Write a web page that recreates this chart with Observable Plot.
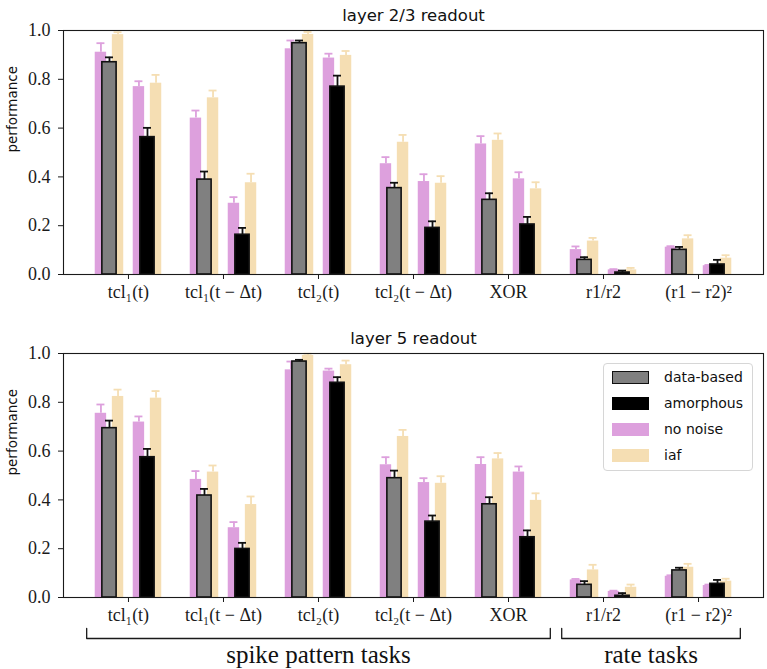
<!DOCTYPE html>
<html><head><meta charset="utf-8">
<script src="https://cdn.jsdelivr.net/npm/d3@7"></script>
<script src="https://cdn.jsdelivr.net/npm/@observablehq/plot@0.6"></script>
<style>
body{margin:0;background:#fff;}
#wrap{position:relative;width:767px;height:669px;overflow:hidden;}
#wrap svg{display:block;}
.legend{position:absolute;left:603px;top:363px;width:150px;height:108px;box-sizing:border-box;border:1px solid #d6d6d6;border-radius:4px;background:rgba(255,255,255,0.85);font-family:"DejaVu Sans";font-size:14px;color:#111;}
.legend .row{position:absolute;left:0;height:13px;width:150px;}
.legend .sw{position:absolute;left:8px;top:0;width:37px;height:13px;box-sizing:border-box;}
.legend .lb{position:absolute;left:60px;top:-3px;line-height:18px;white-space:nowrap;}
</style>
</head><body><div id="wrap"></div>
<script>
const tasks = ["tcl₁(t)", "tcl₁(t − Δt)", "tcl₂(t)", "tcl₂(t − Δt)", "XOR", "r1/r2", "(r1 − r2)²"];
const legendNames = ["data-based", "amorphous", "no noise", "iaf"];
const groupNames = ["spike pattern tasks", "rate tasks"];
const groupStart = [0, 5];
const groupEnd = [4, 6];

// layer 2/3 readout
const l23Data = [0.870, 0.389, 0.948, 0.354, 0.306, 0.060, 0.101];
const l23DataErr = [0.020, 0.033, 0.011, 0.022, 0.027, 0.011, 0.012];
const l23DataNoNoise = [0.911, 0.641, 0.925, 0.454, 0.535, 0.102, 0.112];
const l23DataNoNoiseErr = [0.037, 0.031, 0.034, 0.027, 0.032, 0.013, 0.004];
const l23DataIaf = [0.983, 0.724, 0.984, 0.542, 0.550, 0.137, 0.146];
const l23DataIafErr = [0.010, 0.030, 0.010, 0.030, 0.028, 0.013, 0.015];
const l23Amorph = [0.563, 0.163, 0.770, 0.191, 0.205, 0.008, 0.041];
const l23AmorphErr = [0.038, 0.028, 0.045, 0.027, 0.031, 0.008, 0.019];
const l23AmorphNoNoise = [0.770, 0.292, 0.887, 0.381, 0.392, 0.019, 0.036];
const l23AmorphNoNoiseErr = [0.022, 0.025, 0.018, 0.030, 0.027, 0.003, 0.003];
const l23AmorphIaf = [0.784, 0.376, 0.898, 0.374, 0.351, 0.019, 0.067];
const l23AmorphIafErr = [0.034, 0.037, 0.018, 0.029, 0.027, 0.008, 0.012];

// layer 5 readout
const l5Data = [0.694, 0.418, 0.967, 0.489, 0.382, 0.052, 0.111];
const l5DataErr = [0.031, 0.027, 0.007, 0.031, 0.029, 0.015, 0.011];
const l5DataNoNoise = [0.755, 0.484, 0.933, 0.544, 0.545, 0.072, 0.087];
const l5DataNoNoiseErr = [0.036, 0.034, 0.034, 0.031, 0.030, 0.004, 0.004];
const l5DataIaf = [0.824, 0.514, 0.992, 0.660, 0.568, 0.113, 0.124];
const l5DataIafErr = [0.028, 0.027, 0.007, 0.027, 0.024, 0.021, 0.014];
const l5Amorph = [0.575, 0.199, 0.880, 0.311, 0.247, 0.007, 0.056];
const l5AmorphErr = [0.034, 0.025, 0.023, 0.025, 0.028, 0.011, 0.016];
const l5AmorphNoNoise = [0.719, 0.286, 0.928, 0.471, 0.514, 0.025, 0.049];
const l5AmorphNoNoiseErr = [0.023, 0.023, 0.010, 0.018, 0.023, 0.003, 0.004];
const l5AmorphIaf = [0.817, 0.381, 0.954, 0.468, 0.398, 0.042, 0.067];
const l5AmorphIafErr = [0.029, 0.033, 0.017, 0.029, 0.029, 0.011, 0.010];

const COL = {data: "#808080", amorph: "#000000", nonoise: "#DDA0DD", iaf: "#F5DEB3"};
const SERIF = "Liberation Serif";
const SANS = "DejaVu Sans";
const MAIN_OFF = 0.2, MAIN_W = 0.15, BACK_OFF = 0.09, BACK_W = 0.12, CAP = 0.042;

function rows(vals, errs, center) {
  return vals.map((v, i) => ({i, c: i + center, v, e: errs[i]}));
}

function backMarks(data, color) {
  return [
    Plot.rect(data, {x1: d => d.c - BACK_W / 2, x2: d => d.c + BACK_W / 2, y1: 0, y2: "v", fill: color}),
    Plot.ruleX(data, {x: "c", y1: "v", y2: d => d.v + d.e, stroke: color, strokeWidth: 1.8}),
    Plot.ruleY(data, {y: d => d.v + d.e, x1: d => d.c - CAP, x2: d => d.c + CAP, stroke: color, strokeWidth: 1.8})
  ];
}
function mainMarks(data, color) {
  return [
    Plot.rect(data, {x1: d => d.c - MAIN_W / 2, x2: d => d.c + MAIN_W / 2, y1: 0, y2: "v", fill: color, stroke: "#111", strokeWidth: 1.6}),
    Plot.ruleX(data, {x: "c", y1: "v", y2: d => d.v + d.e, stroke: "#111", strokeWidth: 1.8}),
    Plot.ruleY(data, {y: d => d.v + d.e, x1: d => d.c - CAP, x2: d => d.c + CAP, stroke: "#111", strokeWidth: 1.8})
  ];
}

function panel(title, S, cfg) {
  const dn = rows(S.dataNo, S.dataNoErr, -MAIN_OFF - BACK_OFF);
  const di = rows(S.dataIaf, S.dataIafErr, -MAIN_OFF + BACK_OFF);
  const an = rows(S.amNo, S.amNoErr, MAIN_OFF - BACK_OFF);
  const ai = rows(S.amIaf, S.amIafErr, MAIN_OFF + BACK_OFF);
  const dm = rows(S.data, S.dataErr, -MAIN_OFF);
  const am = rows(S.am, S.amErr, MAIN_OFF);
  const extra = cfg.extra || [];
  return Plot.plot({
    width: 767, height: cfg.height,
    marginLeft: 63, marginRight: 4, marginTop: cfg.mt, marginBottom: cfg.mb,
    style: {fontFamily: SERIF, fontSize: "18px", color: "#1a1a1a", background: "transparent"},
    x: {domain: [-0.684, 6.684]},
    y: {domain: [0, 1]},
    marks: [
      ...backMarks(dn, COL.nonoise), ...backMarks(di, COL.iaf),
      ...backMarks(an, COL.nonoise), ...backMarks(ai, COL.iaf),
      ...mainMarks(dm, COL.data), ...mainMarks(am, COL.amorph),
      Plot.axisY({ticks: [0, 0.2, 0.4, 0.6, 0.8, 1.0], tickFormat: d3.format(".1f"), tickSize: 5, tickPadding: 8, label: null, fontFamily: SERIF, fontSize: 18}),
      Plot.axisX({ticks: d3.range(tasks.length), tickFormat: i => tasks[i], tickSize: 5, tickPadding: 6, label: null, fontFamily: SERIF, fontSize: 18}),
      Plot.frame({stroke: "#1a1a1a", strokeWidth: 1.1}),
      Plot.text([title], {frameAnchor: "top", dy: -10, lineAnchor: "bottom", fontFamily: SANS, fontSize: 16.5, fill: "#111"}),
      Plot.text(["performance"], {frameAnchor: "left", dx: -51, rotate: -90, fontFamily: SANS, fontSize: 13.5, fill: "#111"}),
      ...extra
    ]
  });
}

const wrap = document.getElementById("wrap");

wrap.appendChild(panel("layer 2/3 readout", {
  data: l23Data, dataErr: l23DataErr, dataNo: l23DataNoNoise, dataNoErr: l23DataNoNoiseErr,
  dataIaf: l23DataIaf, dataIafErr: l23DataIafErr, am: l23Amorph, amErr: l23AmorphErr,
  amNo: l23AmorphNoNoise, amNoErr: l23AmorphNoNoiseErr, amIaf: l23AmorphIaf, amIafErr: l23AmorphIafErr
}, {height: 322, mt: 30, mb: 48}));

// brackets below the lower panel (layout offsets in px converted to y units)
const PH = 244;
const yTop = -31 / PH, yBot = -41 / PH, yTxt = -65 / PH;
const bracketPts = groupNames.flatMap((g, k) => {
  const a = groupStart[k] - 0.44, b = groupEnd[k] + 0.44;
  return [{g, x: a, y: yTop}, {g, x: a, y: yBot}, {g, x: b, y: yBot}, {g, x: b, y: yTop}];
});
const bracketText = groupNames.map((g, k) => ({g, x: (groupStart[k] + groupEnd[k]) / 2}));

wrap.appendChild(panel("layer 5 readout", {
  data: l5Data, dataErr: l5DataErr, dataNo: l5DataNoNoise, dataNoErr: l5DataNoNoiseErr,
  dataIaf: l5DataIaf, dataIafErr: l5DataIafErr, am: l5Amorph, amErr: l5AmorphErr,
  amNo: l5AmorphNoNoise, amNoErr: l5AmorphNoNoiseErr, amIaf: l5AmorphIaf, amIafErr: l5AmorphIafErr
}, {height: 347, mt: 31, mb: 72, extra: [
  Plot.line(bracketPts, {x: "x", y: "y", z: "g", stroke: "#1a1a1a", strokeWidth: 1.3, curve: "linear"}),
  Plot.text(bracketText, {x: "x", y: yTxt, text: "g", lineAnchor: "bottom", fontFamily: SERIF, fontSize: 25, fill: "#111"})
]}));

// legend
const legend = document.createElement("div");
legend.className = "legend";
const swatch = [
  {bg: COL.data, border: "1.6px solid #111"},
  {bg: COL.amorph, border: "none"},
  {bg: COL.nonoise, border: "none"},
  {bg: COL.iaf, border: "none"}
];
legendNames.forEach((name, k) => {
  const row = document.createElement("div");
  row.className = "row";
  row.style.top = (7 + k * 26) + "px";
  const sw = document.createElement("div");
  sw.className = "sw";
  sw.style.background = swatch[k].bg;
  sw.style.border = swatch[k].border;
  const lb = document.createElement("div");
  lb.className = "lb";
  lb.textContent = name;
  row.appendChild(sw); row.appendChild(lb);
  legend.appendChild(row);
});
wrap.appendChild(legend);
</script>
</body></html>
